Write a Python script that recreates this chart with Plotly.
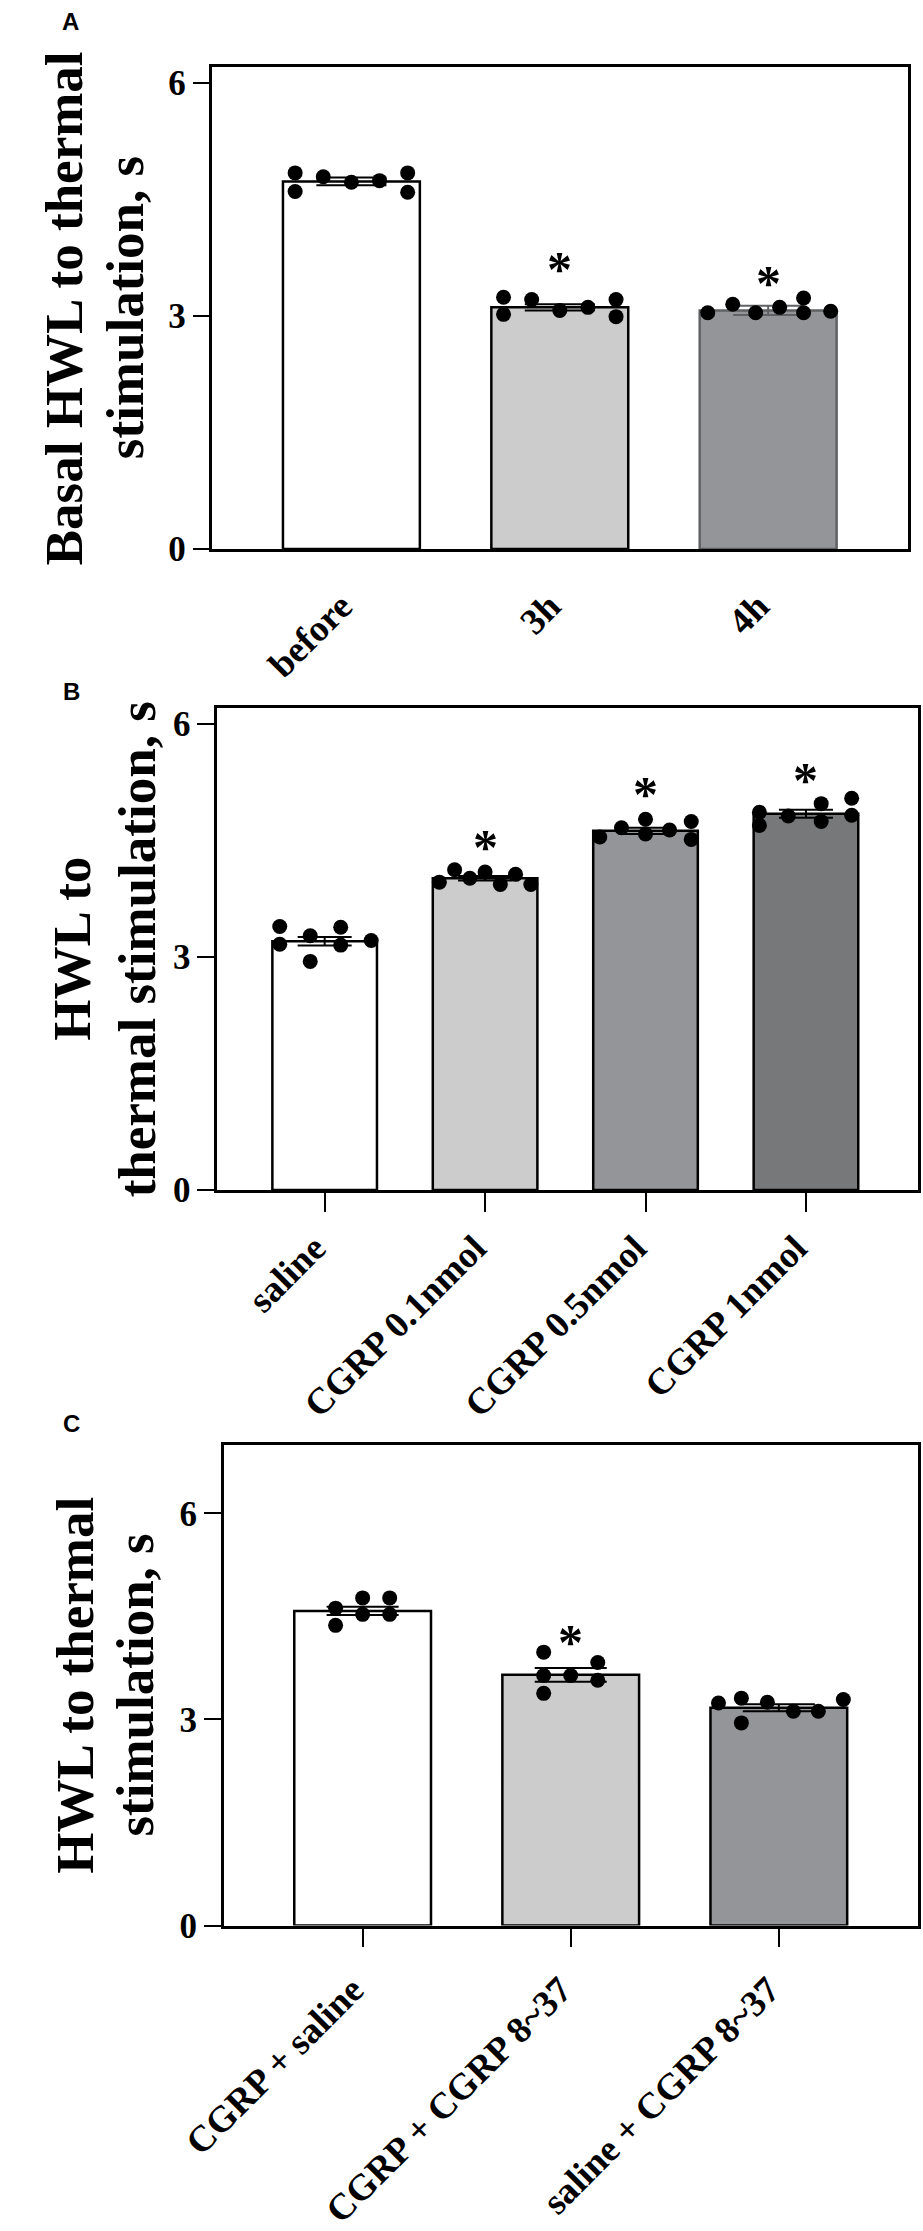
import plotly.graph_objects as go

W, H = 923, 2231

# panel A
a_labels = ["before", "3h", "4h"]
a_means = [4.73, 3.11, 3.07]
a_sem = [0.05, 0.04, 0.06]
a_points = [
    [4.84, 4.60, 4.79, 4.72, 4.74, 4.84, 4.59],
    [3.24, 3.02, 3.21, 3.07, 3.11, 3.21, 2.99],
    [3.04, 3.15, 3.04, 3.11, 3.23, 3.04, 3.06],
]
a_stars = [None, 3.70, 3.53]
a_title = ["Basal HWL to thermal", "stimulation, s"]

# panel B
b_labels = ["saline", "CGRP 0.1nmol", "CGRP 0.5nmol", "CGRP 1nmol"]
b_means = [3.20, 4.01, 4.62, 4.84]
b_sem = [0.055, 0.03, 0.04, 0.05]
b_points = [
    [3.39, 3.16, 3.27, 2.94, 3.38, 3.15, 3.21],
    [3.96, 4.12, 4.01, 4.09, 3.93, 4.06, 3.93],
    [4.54, 4.66, 4.77, 4.58, 4.63, 4.74, 4.51],
    [4.86, 4.69, 4.81, 4.97, 4.74, 5.04, 4.82],
]
b_stars = [None, 4.52, 5.20, 5.38]
b_title = ["HWL to", "thermal stimulation, s"]

# panel C
c_labels = ["CGRP + saline", "CGRP + CGRP 8~37", "saline + CGRP 8~37"]
c_means = [4.58, 3.65, 3.17]
c_sem = [0.06, 0.10, 0.05]
c_points = [
    [4.62, 4.37, 4.77, 4.53, 4.77, 4.53],
    [3.98, 3.64, 3.38, 3.64, 3.83, 3.57],
    [3.24, 3.31, 2.95, 3.25, 3.12, 3.12, 3.29],
]
c_stars = [None, 4.25, None]
c_title = ["HWL to thermal", "stimulation, s"]

# horizontal spread of the dots (category units), layout only
a_jitter = [
    [-0.27, -0.27, -0.135, 0, 0.135, 0.27, 0.27],
    [-0.27, -0.27, -0.135, 0, 0.135, 0.27, 0.27],
    [-0.29, -0.17, -0.06, 0.055, 0.17, 0.17, 0.30],
]
b_jitter = [
    [-0.28, -0.28, -0.09, -0.09, 0.10, 0.10, 0.29],
    [-0.285, -0.19, -0.095, 0, 0.095, 0.19, 0.285],
    [-0.285, -0.15, 0, 0, 0.15, 0.285, 0.285],
    [-0.29, -0.29, -0.11, 0.095, 0.095, 0.285, 0.285],
]
c_jitter = [
    [-0.13, -0.13, 0, 0, 0.13, 0.13],
    [-0.13, -0.13, -0.13, 0, 0.13, 0.13],
    [-0.29, -0.18, -0.18, -0.055, 0.07, 0.19, 0.31],
]

WHITE, LIGHT, MID, DARK = "#ffffff", "#cbcccb", "#939598", "#76787a"
SERIF = "Liberation Serif"
TITLE_SIZE = 53

panels = [
    dict(name="A", labels=a_labels, means=a_means, sem=a_sem, pts=a_points, jit=a_jitter,
         stars=a_stars, fills=[WHITE, LIGHT, MID], edges=["black", "black", "#606163"],
         xpx=(176, 907), ypx=(65, 553), yr=[0, 6.2], xr=[-0.667, 2.67], bw=0.657,
         cap=35, ticks="", standoff=18, title=a_title, baselines=(38, 102), letter=(16, 3)),
    dict(name="B", labels=b_labels, means=b_means, sem=b_sem, pts=b_points, jit=b_jitter,
         stars=b_stars, fills=[WHITE, LIGHT, MID, DARK], edges=["black"] * 4,
         xpx=(181, 918), ypx=(714, 1202), yr=[0, 6.2], xr=[-0.67, 3.70], bw=0.652,
         cap=27, ticks="outside", standoff=0, title=b_title, baselines=(46, 115), letter=(17, 682)),
    dict(name="C", labels=c_labels, means=c_means, sem=c_sem, pts=c_points, jit=c_jitter,
         stars=c_stars, fills=[WHITE, LIGHT, MID], edges=["black"] * 3,
         xpx=(188, 918), ypx=(1460, 1947), yr=[0, 7], xr=[-0.667, 2.67], bw=0.657,
         cap=36, ticks="outside", standoff=6, title=c_title, baselines=(50, 113), letter=(17, 1423)),
]

fig = go.Figure()
annotations = []
layout = {}

for i, p in enumerate(panels):
    sfx = "" if i == 0 else str(i + 1)
    xa, ya = "x" + sfx, "y" + sfx
    n = len(p["labels"])
    for k in range(n):
        ecol = "#606163" if p["edges"][k] != "black" else "black"
        fig.add_trace(go.Bar(
            x=[k], y=[p["means"][k]], width=p["bw"], xaxis=xa, yaxis=ya,
            marker=dict(color=p["fills"][k], line=dict(color=p["edges"][k], width=2.5)),
            error_y=dict(type="data", array=[p["sem"][k]], color=ecol, thickness=2, width=p["cap"]),
            showlegend=False, hoverinfo="skip",
        ))
    for k in range(n):
        fig.add_trace(go.Scatter(
            x=[k + d for d in p["jit"][k]], y=p["pts"][k], mode="markers",
            xaxis=xa, yaxis=ya, marker=dict(color="black", size=15),
            showlegend=False, hoverinfo="skip",
        ))
        if p["stars"][k] is not None:
            annotations.append(dict(
                x=k, y=p["stars"][k], xref=xa, yref=ya, text="*", showarrow=False,
                font=dict(family=SERIF, size=50, color="black", weight="bold"),
                yanchor="middle", yshift=-8,
            ))

    x0, x1 = p["xpx"]
    y0, y1 = p["ypx"]
    layout["xaxis" + sfx] = dict(
        domain=[x0 / W, x1 / W], anchor=ya, range=p["xr"],
        tickvals=list(range(n)), ticktext=p["labels"], tickangle=-45,
        ticks=p["ticks"], ticklen=19, tickwidth=2, tickcolor="black",
        ticklabelstandoff=p["standoff"], ticklabelshift=-10,
        showline=True, linewidth=2.5, linecolor="black", mirror=True,
        showgrid=False, zeroline=False,
        tickfont=dict(family=SERIF, size=37, color="black", weight="bold"),
    )
    layout["yaxis" + sfx] = dict(
        domain=[1 - y1 / H, 1 - y0 / H], anchor=xa, range=p["yr"],
        tickvals=[0, 3, 6], ticks="outside", ticklen=17, tickwidth=2, tickcolor="black",
        showline=True, linewidth=2.5, linecolor="black", mirror=True,
        showgrid=False, zeroline=False,
        tickfont=dict(family=SERIF, size=35, color="black", weight="bold"),
    )
    # one rotated annotation per title line, centred on the plot height
    for line, base in zip(p["title"], p["baselines"]):
        cx = base - 0.3375 * TITLE_SIZE
        annotations.append(dict(
            x=cx / W, y=1 - (y0 + y1) / 2 / H, xref="paper", yref="paper",
            text=line, textangle=-90, showarrow=False, xanchor="center", yanchor="middle",
            borderpad=0, font=dict(family=SERIF, size=TITLE_SIZE, color="black", weight="bold"),
        ))
    lx, ly = p["letter"]
    annotations.append(dict(
        x=lx / W, y=1 - ly / H, xref="paper", yref="paper", text="<b>" + p["name"] + "</b>",
        showarrow=False, xanchor="left", yanchor="top",
        font=dict(family="Liberation Sans", size=24, color="black"),
    ))

fig.update_layout(
    width=W, height=H, margin=dict(l=0, r=0, t=0, b=0),
    paper_bgcolor="white", plot_bgcolor="white", barmode="overlay",
    annotations=annotations, **layout,
)

fig.write_html("out.html", config={"displayModeBar": False},
               post_script="document.body.style.margin='0px';")
